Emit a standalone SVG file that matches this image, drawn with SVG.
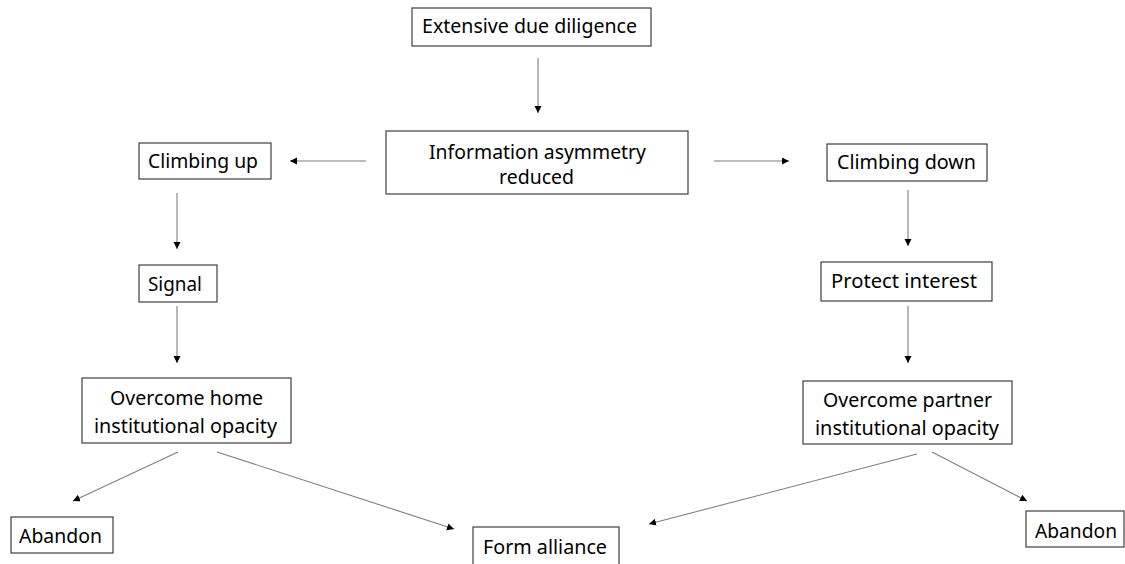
<svg xmlns="http://www.w3.org/2000/svg" width="1125" height="564" viewBox="0 0 1125 564">
<defs>
<style>
.box{fill:#ffffff;stroke:#3f3f3f;stroke-width:1.2}
.t{font-family:"Noto Sans","Liberation Sans",sans-serif;font-size:20px;fill:#000000}
.c{stroke:#7f7f7f;stroke-width:1.1;fill:none;marker-end:url(#ah)}
</style>
<marker id="ah" markerUnits="userSpaceOnUse" markerWidth="8" markerHeight="8" refX="7" refY="3.5" orient="auto">
<path d="M0,0 L7,3.5 L0,7 Z" fill="#000000"/>
</marker>
</defs>
<rect width="1125" height="564" fill="#ffffff"/>
<g id="connectors">
<line class="c" x1="538" y1="58" x2="538" y2="113"/>
<line class="c" x1="366" y1="161" x2="290" y2="161"/>
<line class="c" x1="714" y1="161" x2="789" y2="161"/>
<line class="c" x1="177" y1="193" x2="177" y2="249"/>
<line class="c" x1="177" y1="306" x2="177" y2="363"/>
<line class="c" x1="908" y1="190" x2="908" y2="246"/>
<line class="c" x1="908" y1="306" x2="908" y2="363"/>
<line class="c" x1="178" y1="452" x2="73" y2="501"/>
<line class="c" x1="217" y1="452" x2="454" y2="529"/>
<line class="c" x1="917" y1="454" x2="649" y2="524"/>
<line class="c" x1="932" y1="452" x2="1027" y2="501"/>
</g>
<g id="due-diligence">
<rect class="box" x="412" y="8" width="239" height="38"/>
<text class="t" x="422" y="33" textLength="215" lengthAdjust="spacingAndGlyphs">Extensive due diligence</text>
</g>
<g id="info-asymmetry">
<rect class="box" x="386" y="131" width="302" height="63"/>
<text class="t" x="429" y="159" textLength="217" lengthAdjust="spacingAndGlyphs">Information asymmetry</text>
<text class="t" x="499" y="184" textLength="75" lengthAdjust="spacingAndGlyphs">reduced</text>
</g>
<g id="climbing-up">
<rect class="box" x="139" y="143" width="132" height="36"/>
<text class="t" x="148" y="168" textLength="110" lengthAdjust="spacingAndGlyphs">Climbing up</text>
</g>
<g id="signal">
<rect class="box" x="139" y="265" width="78" height="37"/>
<text class="t" x="148" y="291" textLength="54" lengthAdjust="spacingAndGlyphs">Signal</text>
</g>
<g id="overcome-home">
<rect class="box" x="82" y="378" width="209" height="65"/>
<text class="t" x="110" y="405" textLength="153" lengthAdjust="spacingAndGlyphs">Overcome home</text>
<text class="t" x="94" y="433" textLength="183" lengthAdjust="spacingAndGlyphs">institutional opacity</text>
</g>
<g id="climbing-down">
<rect class="box" x="827" y="144" width="160" height="37"/>
<text class="t" x="837" y="169" textLength="139" lengthAdjust="spacingAndGlyphs">Climbing down</text>
</g>
<g id="protect-interest">
<rect class="box" x="821" y="262" width="171" height="39"/>
<text class="t" x="831" y="288" textLength="146" lengthAdjust="spacingAndGlyphs">Protect interest</text>
</g>
<g id="overcome-partner">
<rect class="box" x="803" y="381" width="209" height="63"/>
<text class="t" x="823" y="407" textLength="169" lengthAdjust="spacingAndGlyphs">Overcome partner</text>
<text class="t" x="815" y="435" textLength="184" lengthAdjust="spacingAndGlyphs">institutional opacity</text>
</g>
<g id="abandon-left">
<rect class="box" x="11" y="517" width="102" height="36"/>
<text class="t" x="19" y="543" textLength="83" lengthAdjust="spacingAndGlyphs">Abandon</text>
</g>
<g id="form-alliance">
<rect class="box" x="473" y="527" width="146" height="45"/>
<text class="t" x="483" y="554" textLength="124" lengthAdjust="spacingAndGlyphs">Form alliance</text>
</g>
<g id="abandon-right">
<rect class="box" x="1026" y="511" width="98" height="36"/>
<text class="t" x="1035" y="538" textLength="82" lengthAdjust="spacingAndGlyphs">Abandon</text>
</g>
</svg>
